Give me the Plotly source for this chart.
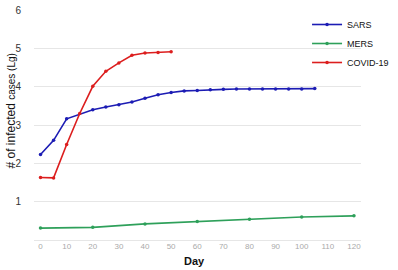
import plotly.graph_objects as go

sars_days = [0, 5, 10, 20, 25, 30, 35, 40, 45, 50, 55, 60, 65, 70, 75, 80, 85, 90, 95, 100, 105]
sars_vals = [2.23, 2.60, 3.16, 3.40, 3.47, 3.53, 3.60, 3.70, 3.79, 3.85, 3.89, 3.90, 3.92, 3.93, 3.94, 3.94, 3.94, 3.94, 3.94, 3.94, 3.95]

mers_days = [0, 20, 40, 60, 80, 100, 120]
mers_vals = [0.31, 0.33, 0.42, 0.48, 0.54, 0.60, 0.63]

covid_days = [0, 5, 10, 15, 20, 25, 30, 35, 40, 45, 50]
covid_vals = [1.63, 1.62, 2.49, 3.30, 4.01, 4.40, 4.62, 4.82, 4.88, 4.89, 4.91]

x_ticks = list(range(0, 121, 10))
y_ticks = [1, 2, 3, 4, 5, 6]

series = [
    ("SARS", sars_days, sars_vals, "#1c1cb4"),
    ("MERS", mers_days, mers_vals, "#2ea05a"),
    ("COVID-19", covid_days, covid_vals, "#dc1e1e"),
]

W, H = 398, 270
L, R, T, B = 34, 20, 4, 30
PW, PH = W - L - R, H - T - B


def px(x):
    return (x - L) / PW


def py(y):
    return (H - B - y) / PH


fig = go.Figure()
for name, xs, ys, col in series:
    fig.add_trace(go.Scatter(
        x=xs, y=ys, name=name, mode="lines+markers",
        line=dict(color=col, width=1.6),
        marker=dict(color=col, size=3.5),
    ))

fig.update_layout(
    width=W, height=H,
    margin=dict(l=L, r=R, t=T, b=B),
    paper_bgcolor="white", plot_bgcolor="white",
    font=dict(family="Liberation Sans, Arial, sans-serif", color="#222"),
    showlegend=True,
    legend=dict(
        x=0.835, y=1.0, xanchor="left", yanchor="top",
        font=dict(size=9, color="#111"),
        itemwidth=30, tracegroupgap=0, bgcolor="rgba(0,0,0,0)",
    ),
    xaxis=dict(
        range=[-2.5, 122.7], tickvals=x_ticks, showgrid=False, zeroline=False,
        showline=False, tickfont=dict(size=8, color="#aaa"), ticks="",
        ticklabelstandoff=0,
    ),
    yaxis=dict(
        range=[0, 6], tickvals=y_ticks, showgrid=True, gridcolor="#e6e6e6",
        gridwidth=1, zeroline=True, zerolinecolor="#e6e6e6", zerolinewidth=1,
        showline=False, tickfont=dict(size=10, color="#333"), ticks="",
        ticklabelstandoff=12, ticklabeloverflow="allow",
    ),
    annotations=[
        dict(text="<b>Day</b>", x=px(203), y=py(262), xref="paper", yref="paper",
             xanchor="center", yanchor="middle", showarrow=False,
             font=dict(size=11, color="#111")),
        dict(text="# of infected <span style='font-size:10px'>cases (Lg)</span>",
             x=px(10), y=py(108), xref="paper", yref="paper", showarrow=False,
             xanchor="center", yanchor="middle",
             textangle=-90, font=dict(size=12, color="#111")),
    ],
)

fig.write_html("out.html", config={"displayModeBar": False},
               post_script="document.body.style.margin='0';")
